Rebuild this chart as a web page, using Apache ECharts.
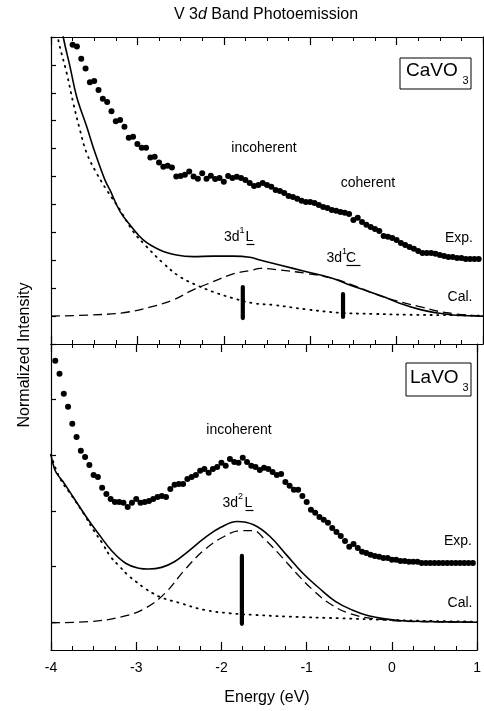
<!DOCTYPE html>
<html>
<head>
<meta charset="utf-8">
<script src="https://cdn.jsdelivr.net/npm/echarts@6/dist/echarts.min.js"></script>
<style>
  html, body { margin: 0; padding: 0; background: #fff; }
  #chart { width: 484px; height: 711px; }
</style>
</head>
<body>
<div id="chart"></div>
<script>
// CaVO3 (upper panel), [energy eV, intensity a.u.]
const caExp = [
  [-3.75,10.72],[-3.70,10.66],[-3.65,10.22],[-3.60,9.87],[-3.55,9.38],[-3.50,9.42],[-3.45,9.10],
  [-3.40,8.79],[-3.35,8.67],[-3.30,8.34],[-3.25,7.98],[-3.20,8.03],[-3.15,7.78],[-3.10,7.39],
  [-3.05,7.43],[-3.00,7.17],[-2.95,7.03],[-2.90,7.03],[-2.85,6.68],[-2.80,6.71],[-2.75,6.50],
  [-2.70,6.35],[-2.65,6.39],[-2.60,6.32],[-2.55,6.00],[-2.50,6.02],[-2.45,6.06],[-2.40,6.18],
  [-2.35,6.00],[-2.30,5.92],[-2.25,6.12],[-2.20,5.92],[-2.15,6.03],[-2.10,5.91],[-2.05,5.95],
  [-2.00,5.81],[-1.95,6.02],[-1.90,5.95],[-1.85,5.99],[-1.80,5.95],[-1.75,5.88],[-1.70,5.77],
  [-1.65,5.66],[-1.60,5.70],[-1.55,5.77],[-1.50,5.70],[-1.45,5.63],[-1.40,5.52],[-1.35,5.48],
  [-1.30,5.41],[-1.25,5.30],[-1.20,5.27],[-1.15,5.20],[-1.10,5.13],[-1.05,5.09],[-1.00,5.09],
  [-0.95,5.05],[-0.90,4.98],[-0.85,4.91],[-0.80,4.87],[-0.75,4.80],[-0.70,4.77],[-0.65,4.73],
  [-0.60,4.70],[-0.55,4.66],[-0.50,4.44],[-0.45,4.52],[-0.40,4.37],[-0.35,4.27],[-0.30,4.19],
  [-0.25,4.12],[-0.20,4.05],[-0.15,3.87],[-0.10,3.84],[-0.05,3.80],[0.00,3.73],[0.05,3.62],
  [0.10,3.55],[0.15,3.48],[0.20,3.41],[0.25,3.33],[0.30,3.26],[0.35,3.26],[0.40,3.26],
  [0.45,3.23],[0.50,3.19],[0.55,3.15],[0.60,3.12],[0.65,3.12],[0.70,3.08],[0.75,3.08],
  [0.80,3.05],[0.85,3.05],[0.90,3.05],[0.95,3.05]
];
const caCal = [
  [-3.90,11.9],[-3.858,11.0],[-3.78,9.94],[-3.703,8.86],[-3.587,7.79],[-3.49,6.85],[-3.376,5.88],
  [-3.318,5.52],[-3.20,4.74],[-3.087,4.27],[-2.933,3.73],[-2.74,3.37],[-2.547,3.19],[-2.355,3.13],
  [-2.124,3.15],[-1.89,3.15],[-1.70,3.11],[-1.584,3.01],[-1.353,2.83],[-1.044,2.59],[-0.736,2.35],
  [-0.543,2.11],[-0.35,1.91],[-0.158,1.70],[0.035,1.46],[0.266,1.24],[0.497,1.10],[0.69,1.03],[1.0,1.0]
];
const caBackground = [
  [-3.95,11.6],[-3.916,10.9],[-3.818,9.70],[-3.742,8.63],[-3.665,7.67],[-3.587,6.84],[-3.472,6.12],
  [-3.356,5.52],[-3.20,4.80],[-3.049,4.03],[-2.894,3.49],[-2.70,2.89],[-2.509,2.41],[-2.316,2.11],
  [-2.124,1.87],[-1.892,1.64],[-1.661,1.46],[-1.43,1.40],[-1.044,1.24],[-0.659,1.12],[-0.274,1.08],
  [0.112,1.05],[0.69,1.03],[1.0,1.01]
];
const caPeak = [
  [-4.0,1.0],[-3.55,1.04],[-3.164,1.12],[-2.856,1.32],[-2.586,1.58],[-2.355,1.94],[-2.124,2.23],
  [-1.892,2.51],[-1.661,2.65],[-1.584,2.71],[-1.353,2.65],[-1.044,2.53],[-0.736,2.35],[-0.505,2.11],
  [-0.274,1.82],[-0.043,1.58],[0.266,1.34],[0.575,1.12],[1.0,1.0]
];
const caLines = [[-1.78, 0.93, 2.04], [-0.62, 0.97, 1.79]];

// LaVO3 (lower panel)
const laExp = [
  [-3.95,10.40],[-3.90,9.93],[-3.85,9.21],[-3.80,8.74],[-3.75,8.13],[-3.70,7.66],[-3.65,7.16],
  [-3.60,6.94],[-3.55,6.65],[-3.50,6.29],[-3.45,6.22],[-3.40,5.83],[-3.35,5.61],[-3.30,5.43],
  [-3.25,5.32],[-3.20,5.32],[-3.15,5.29],[-3.10,5.14],[-3.05,5.29],[-3.00,5.43],[-2.95,5.29],
  [-2.90,5.32],[-2.85,5.36],[-2.80,5.43],[-2.75,5.50],[-2.70,5.54],[-2.65,5.50],[-2.60,5.79],
  [-2.55,5.94],[-2.50,5.97],[-2.45,5.97],[-2.40,6.15],[-2.35,6.22],[-2.30,6.29],[-2.25,6.44],
  [-2.20,6.51],[-2.15,6.37],[-2.10,6.51],[-2.05,6.58],[-2.00,6.73],[-1.95,6.62],[-1.90,6.87],
  [-1.85,6.76],[-1.80,6.73],[-1.75,6.91],[-1.70,6.76],[-1.65,6.62],[-1.60,6.58],[-1.55,6.47],
  [-1.50,6.55],[-1.45,6.51],[-1.40,6.40],[-1.35,6.29],[-1.30,6.33],[-1.25,6.04],[-1.20,5.90],
  [-1.15,5.76],[-1.10,5.76],[-1.05,5.54],[-1.00,5.32],[-0.95,5.04],[-0.90,4.93],[-0.85,4.78],
  [-0.80,4.68],[-0.75,4.57],[-0.70,4.39],[-0.65,4.24],[-0.60,4.10],[-0.55,3.92],[-0.50,3.71],
  [-0.45,3.81],[-0.40,3.67],[-0.35,3.53],[-0.30,3.49],[-0.25,3.42],[-0.20,3.38],[-0.15,3.35],
  [-0.10,3.31],[-0.05,3.31],[0.00,3.24],[0.05,3.24],[0.10,3.20],[0.15,3.20],[0.20,3.17],
  [0.25,3.17],[0.30,3.17],[0.35,3.13],[0.40,3.13],[0.45,3.13],[0.50,3.13],[0.55,3.13],
  [0.60,3.13],[0.65,3.13],[0.70,3.13],[0.75,3.13],[0.80,3.13],[0.85,3.13],[0.90,3.13],[0.95,3.13]
];
const laCal = [
  [-4.0,7.02],[-3.954,6.47],[-3.896,6.19],[-3.858,6.05],[-3.742,5.51],[-3.587,4.79],[-3.434,4.14],
  [-3.28,3.54],[-3.125,3.12],[-2.971,2.94],[-2.855,2.91],[-2.702,2.97],[-2.547,3.18],[-2.393,3.54],
  [-2.20,4.02],[-2.008,4.41],[-1.815,4.62],[-1.622,4.50],[-1.43,4.08],[-1.237,3.42],[-1.044,2.76],
  [-0.852,2.22],[-0.659,1.74],[-0.466,1.44],[-0.274,1.23],[-0.081,1.12],[0.112,1.05],[0.497,1.02],[1.0,1.0]
];
const laBackground = [
  [-4.0,7.02],[-3.896,6.18],[-3.75,5.52],[-3.60,4.82],[-3.50,4.30],[-3.40,3.85],[-3.30,3.35],
  [-3.20,3.02],[-3.10,2.70],[-3.00,2.45],[-2.90,2.22],[-2.80,2.03],[-2.70,1.88],[-2.50,1.70],
  [-2.20,1.44],[-1.90,1.32],[-1.60,1.26],[-1.20,1.20],[-0.60,1.14],[0.0,1.08],[0.50,1.04],[1.0,1.02]
];
const laPeak = [
  [-4.0,0.98],[-3.549,1.02],[-3.164,1.20],[-2.894,1.50],[-2.662,2.04],[-2.431,2.88],[-2.20,3.60],
  [-1.969,4.08],[-1.777,4.29],[-1.622,4.29],[-1.506,4.02],[-1.314,3.42],[-1.121,2.76],[-0.928,2.16],
  [-0.736,1.68],[-0.505,1.32],[-0.197,1.12],[0.303,1.02],[1.0,1.0]
];
const laLines = [[-1.76, 0.94, 3.38]];

// lower panel left-axis tick positions
const laTicks = [1, 3, 5, 7, 9];
const yMax = 11;
const font = 'Liberation Sans, Arial, sans-serif';

const chart = echarts.init(document.getElementById('chart'));

function xAx(gridIndex, position, showLabel) {
  return {
    type: 'value', gridIndex, position, min: -4, max: 1, interval: 1,
    axisLine: { show: true, onZero: false, lineStyle: { color: '#000', width: 1.2 } },
    axisTick: { show: true, inside: true, length: 8, lineStyle: { color: '#000', width: 1.2 } },
    minorTick: { show: true, splitNumber: 4, length: 4, lineStyle: { color: '#000', width: 1 } },
    axisLabel: { show: showLabel, color: '#000', fontSize: 14, fontFamily: font, margin: 11,
      formatter: v => String(v) },
    splitLine: { show: false }
  };
}
function yAx(gridIndex, position, ticks, custom) {
  const tick = { show: ticks, inside: true, length: 5, lineStyle: { color: '#000', width: 1.2 } };
  if (custom) tick.customValues = custom;
  return {
    type: 'value', gridIndex, position, min: 0, max: yMax, interval: 1,
    axisLine: { show: true, onZero: false, lineStyle: { color: '#000', width: 1.2 } },
    axisTick: tick,
    axisLabel: { show: false },
    splitLine: { show: false }
  };
}

function curves(xi, yi, exp, cal, bg, peak, bars) {
  const s = [
    { type: 'line', xAxisIndex: xi, yAxisIndex: yi, data: bg, smooth: 0.4, symbol: 'none',
      lineStyle: { color: '#000', width: 1.8, type: [1.2, 5.5], cap: 'round' } },
    { type: 'line', xAxisIndex: xi, yAxisIndex: yi, data: peak, smooth: 0.4, symbol: 'none',
      lineStyle: { color: '#000', width: 1.3, type: [9, 5] } },
    { type: 'line', xAxisIndex: xi, yAxisIndex: yi, data: cal, smooth: 0.4, symbol: 'none',
      lineStyle: { color: '#000', width: 1.6 } },
    { type: 'scatter', xAxisIndex: xi, yAxisIndex: yi, data: exp, symbol: 'circle', symbolSize: 6,
      itemStyle: { color: '#000', opacity: 1 } }
  ];
  bars.forEach(b => s.push({
    type: 'line', xAxisIndex: xi, yAxisIndex: yi, data: [[b[0], b[1]], [b[0], b[2]]], symbol: 'none',
    lineStyle: { color: '#000', width: 4.2, cap: 'round' }
  }));
  return s;
}

function txt(text, x, y, size, align) {
  return { type: 'text', style: { text, x, y, fill: '#000', fontSize: size, fontFamily: font,
    textAlign: align || 'center', textVerticalAlign: 'middle' } };
}
function uline(x1, x2, y) {
  return { type: 'line', shape: { x1, y1: y, x2, y2: y }, style: { stroke: '#000', lineWidth: 1.2 } };
}
function box(x, y, w, h) {
  return { type: 'rect', shape: { x, y, width: w, height: h }, style: { fill: 'none', stroke: '#000', lineWidth: 1 } };
}

const option = {
  animation: false,
  backgroundColor: '#fff',
  grid: [
    { left: 51, right: 1, top: 37, height: 307 },
    { left: 51, right: 1, top: 344, height: 306 }
  ],
  xAxis: [xAx(0, 'bottom', false), xAx(0, 'top', false), xAx(1, 'bottom', true), xAx(1, 'top', false)],
  yAxis: [yAx(0, 'left', true), yAx(0, 'right', false), yAx(1, 'left', true, laTicks), yAx(1, 'right', false)],
  series: [
    ...curves(0, 0, caExp, caCal, caBackground, caPeak, caLines),
    ...curves(2, 2, laExp, laCal, laBackground, laPeak, laLines)
  ],
  graphic: [
    { type: 'text', style: { text: '{a|V 3}{b|d}{a| Band Photoemission}', x: 266, y: 15,
        textAlign: 'center', textVerticalAlign: 'middle', fill: '#000',
        rich: { a: { fontSize: 16, fontFamily: font }, b: { fontSize: 16, fontFamily: font, fontStyle: 'italic' } } } },
    { type: 'text', rotation: Math.PI / 2, x: 25, y: 355, style: {
      text: 'Normalized Intensity', x: 0, y: 0, fill: '#000', fontSize: 16, fontFamily: font,
      textAlign: 'center', textVerticalAlign: 'middle' } },
    txt('Energy (eV)', 267, 698, 16),
    // upper panel labels
    box(400, 58, 71, 31),
    txt('CaVO', 406, 71, 19, 'left'),
    txt('3', 462.5, 81, 11, 'left'),
    txt('incoherent', 264, 148, 14),
    txt('coherent', 368, 183, 14),
    txt('Exp.', 459, 238, 14),
    txt('Cal.', 460, 297, 14),
    txt('3d', 224, 237, 14, 'left'),
    txt('1', 239.5, 231, 9, 'left'),
    txt('L', 245.5, 237, 14, 'left'),
    uline(246.5, 254.5, 244.5),
    txt('3d', 326.5, 258, 14, 'left'),
    txt('1', 342, 252, 9, 'left'),
    txt('C', 346, 258, 14, 'left'),
    uline(346.5, 360.5, 265.5),
    // lower panel labels
    box(406, 363, 65, 33),
    txt('LaVO', 410, 378, 19, 'left'),
    txt('3', 462.5, 388, 11, 'left'),
    txt('incoherent', 239, 430, 14),
    txt('3d', 222.5, 503, 14, 'left'),
    txt('2', 238, 497, 9, 'left'),
    txt('L', 244.5, 503, 14, 'left'),
    uline(245.5, 253.5, 510.5),
    txt('Exp.', 458, 541, 14),
    txt('Cal.', 460, 603, 14)
  ]
};

chart.setOption(option);
</script>
</body>
</html>
